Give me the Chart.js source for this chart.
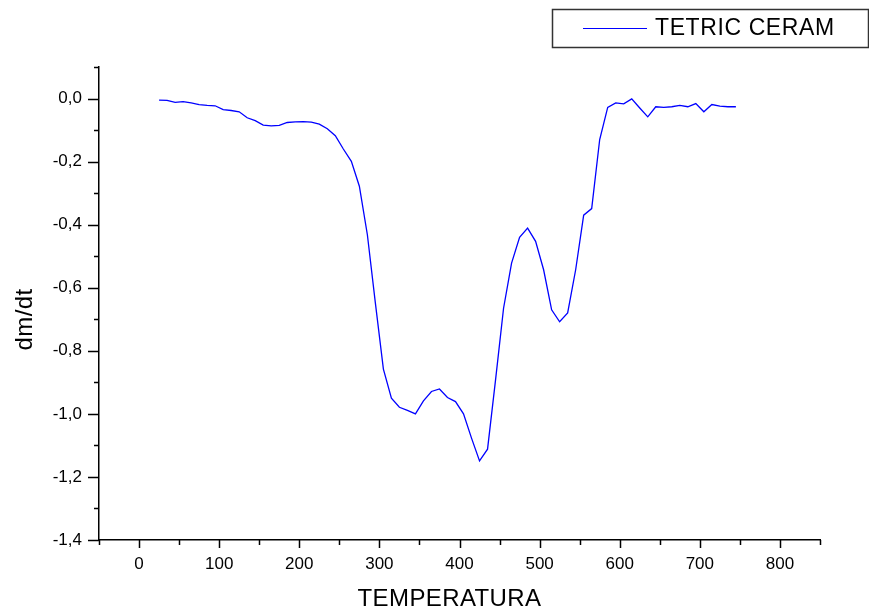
<!DOCTYPE html>
<html><head><meta charset="utf-8">
<script src="https://cdn.jsdelivr.net/npm/chart.js@4"></script>
<style>html,body{margin:0;padding:0;background:#fff;overflow:hidden;}</style>
</head><body>
<canvas id="c" width="869" height="614"></canvas>
<script>
const seriesLabel = 'TETRIC CERAM';
const xTitle = 'TEMPERATURA';
const yTitle = 'dm/dt';
const temperature = [25,35,45,55,65,75,85,95,105,115,125,135,145,155,165,175,185,195,205,215,225,235,245,255,265,275,285,295,305,315,325,335,345,355,365,375,385,395,405,415,425,435,445,455,465,475,485,495,505,515,525,535,545,555,565,575,585,595,605,615,625,635,645,655,665,675,685,695,705,715,725,735,745];
const dmdt = [-0.005,-0.006,-0.012,-0.010,-0.014,-0.019,-0.022,-0.023,-0.035,-0.038,-0.042,-0.061,-0.070,-0.084,-0.087,-0.085,-0.076,-0.074,-0.073,-0.075,-0.081,-0.096,-0.118,-0.160,-0.199,-0.278,-0.432,-0.649,-0.858,-0.950,-0.979,-0.989,-1.000,-0.959,-0.929,-0.921,-0.948,-0.961,-1.000,-1.077,-1.149,-1.112,-0.892,-0.665,-0.522,-0.440,-0.411,-0.453,-0.543,-0.670,-0.708,-0.680,-0.543,-0.370,-0.349,-0.130,-0.028,-0.014,-0.017,-0.001,-0.030,-0.058,-0.026,-0.028,-0.026,-0.022,-0.026,-0.016,-0.042,-0.019,-0.024,-0.026,-0.026];
const xRange = [-50, 850];
const xMinorStep = 50, xMajorStep = 100;
const yRange = [-1.4, 0.1];
const yMinorStep = 0.1, yMajorStep = 0.2;

const FONT = '"Liberation Sans", Arial, Helvetica, sans-serif';
const isMajor = (v, step) => { const r = v / step; return Math.abs(r - Math.round(r)) < 1e-6; };

const titleTweak = {
  id: 'titleTweak',
  beforeDraw(chart) {
    [['x', -10, 0], ['y', 0, 16]].forEach(([id, dx, dy]) => {
      const s = chart.scales[id];
      if (!s || s._tweaked) return;
      const orig = s.drawTitle;
      s.drawTitle = function () {
        const ctx = this.ctx;
        ctx.save(); ctx.translate(dx, dy); ctx.letterSpacing = '0.4px';
        orig.call(this);
        ctx.restore();
      };
      s._tweaked = true;
    });
  }
};

const tickMarks = {
  id: 'tickMarks',
  afterDraw(chart) {
    const ctx = chart.ctx, xs = chart.scales.x, ys = chart.scales.y;
    ctx.save(); ctx.strokeStyle = '#000'; ctx.lineWidth = 1.5; ctx.beginPath();
    xs.ticks.forEach(t => {
      const px = Math.round(xs.getPixelForValue(t.value)) + 0.5;
      const len = isMajor(t.value, xMajorStep) ? 8 : 5;
      ctx.moveTo(px, xs.top); ctx.lineTo(px, xs.top + len);
    });
    ys.ticks.forEach(t => {
      const py = Math.round(ys.getPixelForValue(t.value)) + 0.5;
      const len = isMajor(t.value, yMajorStep) ? 11 : 5;
      ctx.moveTo(ys.right, py); ctx.lineTo(ys.right - len, py);
    });
    ctx.stroke(); ctx.restore();
  }
};

const boxLegend = {
  id: 'boxLegend',
  afterDraw(chart) {
    const ctx = chart.ctx, ds = chart.data.datasets[0];
    ctx.save();
    ctx.strokeStyle = '#333'; ctx.lineWidth = 1.5;
    ctx.strokeRect(552.5, 9.5, 316, 38);
    ctx.strokeStyle = ds.borderColor; ctx.lineWidth = 1.2;
    ctx.beginPath(); ctx.moveTo(583, 28.5); ctx.lineTo(647, 28.5); ctx.stroke();
    ctx.fillStyle = '#000'; ctx.font = '23px ' + FONT; ctx.letterSpacing = '0.6px';
    ctx.textBaseline = 'middle'; ctx.textAlign = 'left';
    ctx.fillText(ds.label, 655, 29);
    ctx.restore();
  }
};

new Chart(document.getElementById('c'), {
  type: 'line',
  data: {
    datasets: [{
      label: seriesLabel,
      data: temperature.map((t, i) => ({ x: t, y: dmdt[i] })),
      borderColor: '#0000ff',
      borderWidth: 1.3,
      pointRadius: 0,
      fill: false,
      tension: 0
    }]
  },
  options: {
    responsive: false,
    devicePixelRatio: 1,
    animation: false,
    layout: { padding: { left: 0, top: 67, right: 49, bottom: 0 } },
    plugins: { legend: { display: false }, tooltip: { enabled: false } },
    scales: {
      x: {
        type: 'linear', min: xRange[0], max: xRange[1],
        afterFit(s) { s.height = 74; },
        grid: { display: true, drawOnChartArea: false, drawTicks: false },
        border: { display: true, color: '#000', width: 1.5 },
        ticks: {
          stepSize: xMinorStep, autoSkip: false, maxRotation: 0, minRotation: 0,
          padding: 14, color: '#000', font: { family: FONT, size: 17 },
          callback: v => isMajor(v, xMajorStep) ? String(Math.round(v)) : ''
        },
        title: { display: true, text: xTitle, color: '#000', font: { family: FONT, size: 24 }, padding: { top: 0, bottom: 0 } }
      },
      y: {
        type: 'linear', min: yRange[0], max: yRange[1],
        afterFit(s) { s.width = 99; },
        grid: { display: true, drawOnChartArea: false, drawTicks: false },
        border: { display: true, color: '#000', width: 1.5 },
        ticks: {
          stepSize: yMinorStep, autoSkip: false, padding: 17, color: '#000',
          font: { family: FONT, size: 17 },
          callback: v => {
            if (!isMajor(v, yMajorStep)) return '';
            const r = Math.abs(v) < 1e-9 ? 0 : v;
            return r.toFixed(1).replace('.', ',');
          }
        },
        title: { display: true, text: yTitle, color: '#000', font: { family: FONT, size: 24 }, padding: { top: 11, bottom: 0 } }
      }
    }
  },
  plugins: [titleTweak, tickMarks, boxLegend]
});
</script>
</body></html>
